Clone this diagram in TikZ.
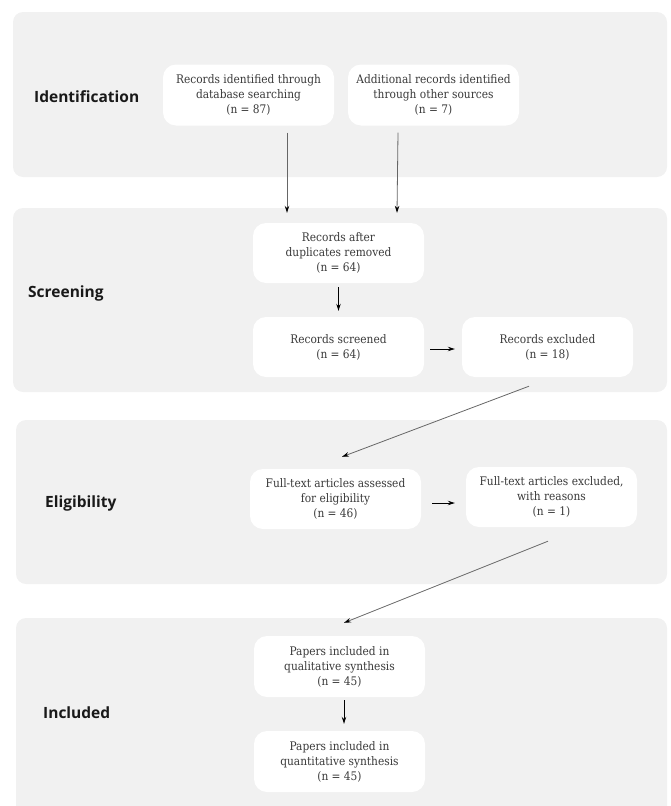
\documentclass[tikz,border=0pt]{standalone}
\usepackage{fontspec}
\setmainfont{DejaVu Serif Condensed}
\newfontfamily\labelfont{Open Sans}
\usetikzlibrary{arrows.meta,calc}
\definecolor{panelgray}{HTML}{F1F1F1}
\definecolor{boxtext}{HTML}{3A3A3A}
\definecolor{linegray}{HTML}{666666}
\tikzset{
  panel/.style={fill=panelgray, draw=none, rounded corners=10pt},
  stagebox/.style={fill=white, draw=none, rounded corners=13pt, minimum width=171pt, minimum height=61pt, align=center, font=\fontsize{11.8}{15}\selectfont, text=boxtext, inner sep=0pt},
  stagelabel/.style={anchor=west, font=\labelfont\bfseries\fontsize{15.5}{17}\selectfont, text=black!90, inner sep=0pt},
  arr/.style={draw=linegray, line width=0.8pt, -{Stealth[length=7pt,width=4.5pt,color=black]}}
}
\begin{document}
\begin{tikzpicture}[x=1pt,y=-1pt]
\useasboundingbox (0,0) rectangle (670,806);
\begin{scope}
\clip (0,0) rectangle (670,806);
\fill[panel] (13,12) rectangle (667,177);
\fill[panel] (13,208) rectangle (667,392);
\fill[panel] (16,420) rectangle (667,584);
\fill[panel] (16,618) rectangle (667,830);
\end{scope}

\node[stagelabel] (lid) at (34,97) {Identification};
\node[stagelabel] (lsc) at (28,293) {Screening};
\node[stagelabel] (lel) at (45,503) {Eligibility};
\node[stagelabel] (lin) at (43,713) {Included};

\node[stagebox] (b1) at (248.5,95) {Records identified through\\database searching\\(n = 87)};
\node[stagebox] (b2) at (433.5,95) {Additional records identified\\through other sources\\(n = 7)};
\node[stagebox, minimum height=60pt] (dup) at (338.5,253) {Records after\\duplicates removed\\(n = 64)};
\node[stagebox, minimum height=60pt] (scr) at (338.5,347) {Records screened\\(n = 64)};
\node[stagebox, minimum height=60pt] (exc) at (547.5,347) {Records excluded\\(n = 18)};
\node[stagebox, minimum height=60pt] (ass) at (335.5,499) {Full-text articles assessed\\for eligibility\\(n = 46)};
\node[stagebox, minimum height=60pt] (ftx) at (551.5,497) {Full-text articles excluded,\\with reasons\\(n = 1)};
\node[stagebox] (qual) at (339.5,666.5) {Papers included in\\qualitative synthesis\\(n = 45)};
\node[stagebox] (quan) at (339.5,761.5) {Papers included in\\quantitative synthesis\\(n = 45)};

\draw[arr] ($(b1.south)+(38.5,7)$) -- ($(dup.north)+(-51.5,-10)$);
\draw[arr] ($(b2.south)+(-35.5,7)$) -- ($(dup.north)+(58.5,-10)$);
\draw[arr, draw=black, shorten <=4pt, shorten >=6pt] (dup) -- (scr);
\draw[arr, draw=black, shorten <=6pt, shorten >=7pt] ($(scr.east)+(0,2)$) -- ($(exc.west)+(0,2)$);
\draw[arr] ($(exc.south)+(-18.5,9)$) -- ($(ass.north)+(6.5,-12)$);
\draw[arr, draw=black] ($(ass.east)+(11,4)$) -- ($(ftx.west)+(-11,6)$);
\draw[arr] ($(ftx.south)+(-3.5,14)$) -- ($(qual.north)+(4.5,-13)$);
\draw[arr, draw=black] ($(qual.south)+(4.5,3)$) -- ($(quan.north)+(4.5,-7)$);
\end{tikzpicture}
\end{document}
